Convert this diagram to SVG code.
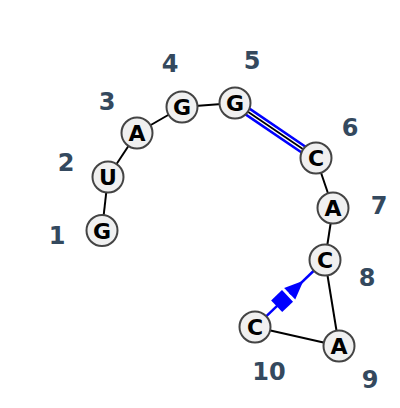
<svg xmlns="http://www.w3.org/2000/svg" width="400" height="408" viewBox="0 0 400 408">
<style>
.bb{stroke:#000;stroke-width:2;fill:none}
.pair{stroke:#0000ff;stroke-width:2.5;fill:none}
.nc{fill:#f0f0f0;stroke:#444;stroke-width:2}
.nt{font-family:"DejaVu Sans",sans-serif;font-weight:bold;font-size:22px;fill:#000;text-anchor:middle;dominant-baseline:central}
.num{font-family:"DejaVu Sans",sans-serif;font-weight:bold;font-size:24px;fill:#34495e;text-anchor:middle;dominant-baseline:central}
</style>
<rect width="400" height="408" fill="#fff"/>
<g id="connectors">
<line class="bb" x1="102" y1="230" x2="108" y2="177"/>
<line class="bb" x1="108" y1="177" x2="137" y2="133"/>
<line class="bb" x1="137" y1="133" x2="182" y2="107"/>
<line class="bb" x1="182" y1="107" x2="235" y2="103"/>
<g transform="translate(235,103) rotate(34.18)">
<line class="pair" x1="0" y1="-3.5" x2="98" y2="-3.5"/>
<line class="pair" x1="0" y1="3.5" x2="98" y2="3.5"/>
<line stroke="#000" stroke-width="1.8" x1="0" y1="0" x2="98" y2="0"/>
</g>
<line class="bb" x1="316" y1="158" x2="333" y2="208"/>
<line class="bb" x1="333" y1="208" x2="325" y2="260"/>
<line class="bb" x1="325" y1="260" x2="339" y2="346"/>
<line class="bb" x1="339" y1="346" x2="255" y2="327"/>
<g transform="translate(255,327) rotate(-43.75)">
<line class="pair" x1="10" y1="0" x2="31" y2="0"/>
<line class="pair" x1="48" y1="0" x2="90" y2="0"/>
<rect x="30" y="-8" width="15" height="16" fill="#0000ff"/>
<polygon points="48,-8 67,0 48,8" fill="#0000ff"/>
</g>
</g>
<g id="n1"><circle class="nc" cx="102" cy="230.5" r="15.5"/><text class="nt" x="102" y="231">G</text></g>
<g id="n2"><circle class="nc" cx="108" cy="177" r="15.5"/><text class="nt" x="108" y="177.5">U</text></g>
<g id="n3"><circle class="nc" cx="137" cy="133" r="15.5"/><text class="nt" x="137" y="133.5">A</text></g>
<g id="n4"><circle class="nc" cx="182" cy="107" r="15.5"/><text class="nt" x="182" y="107.5">G</text></g>
<g id="n5"><circle class="nc" cx="235" cy="103" r="15.5"/><text class="nt" x="235" y="103.5">G</text></g>
<g id="n6"><circle class="nc" cx="316" cy="158" r="15.5"/><text class="nt" x="316" y="158.5">C</text></g>
<g id="n7"><circle class="nc" cx="333" cy="208" r="15.5"/><text class="nt" x="333" y="208.5">A</text></g>
<g id="n8"><circle class="nc" cx="325" cy="260" r="15.5"/><text class="nt" x="325" y="260.5">C</text></g>
<g id="n9"><circle class="nc" cx="339" cy="346" r="15.5"/><text class="nt" x="339" y="346.5">A</text></g>
<g id="n10"><circle class="nc" cx="255" cy="327" r="15.5"/><text class="nt" x="255" y="327.5">C</text></g>
<g id="labels">
<text class="num" x="57" y="236">1</text>
<text class="num" x="66" y="163">2</text>
<text class="num" x="107" y="102">3</text>
<text class="num" x="170" y="64">4</text>
<text class="num" x="252" y="61">5</text>
<text class="num" x="350" y="128">6</text>
<text class="num" x="379" y="206">7</text>
<text class="num" x="367" y="278">8</text>
<text class="num" x="370" y="380">9</text>
<text class="num" x="269" y="372">10</text>
</g>
</svg>
